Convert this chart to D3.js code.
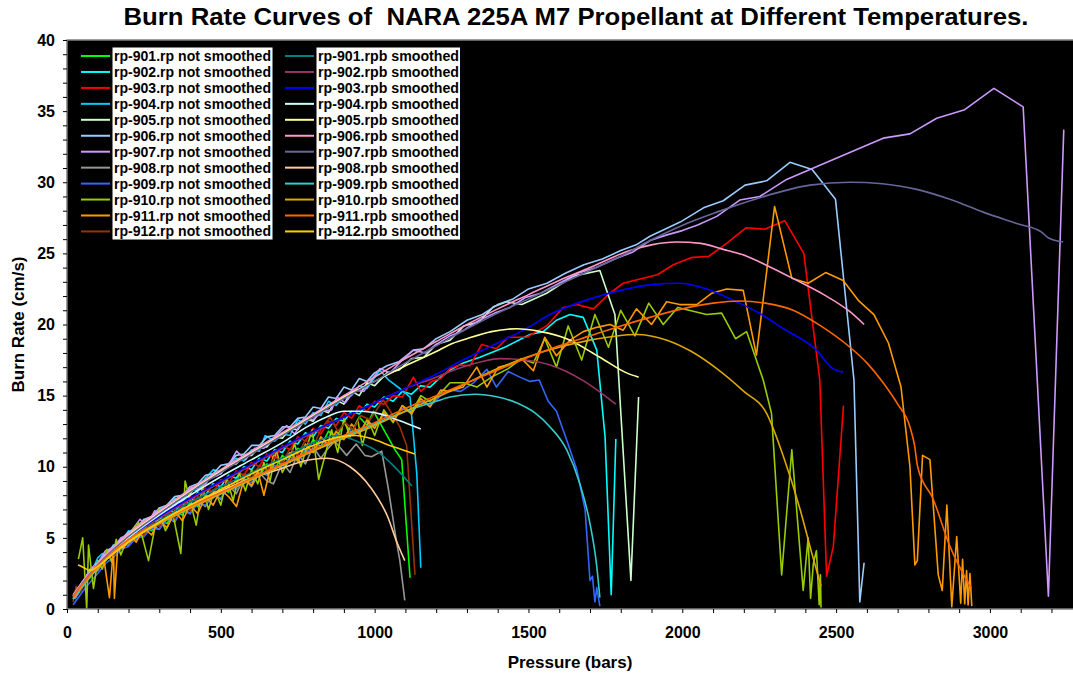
<!DOCTYPE html>
<html>
<head>
<meta charset="utf-8">
<script src="https://cdn.jsdelivr.net/npm/d3@7"></script>
<style>
  html, body { margin: 0; padding: 0; background: #ffffff; }
  svg { display: block; }
  text { font-family: "Liberation Sans", Arial, Helvetica, sans-serif; font-weight: bold; fill: #000; }
</style>
</head>
<body>
<svg id="chart" width="1073" height="675"></svg>
<script>
// ---- Text ----
const chartTitle = "Burn Rate Curves of  NARA 225A M7 Propellant at Different Temperatures.";
const xTitle = "Pressure (bars)";
const yTitle = "Burn Rate (cm/s)";

// ---- Axis ticks ----
const xTickValues = d3.range(0, 3201, 100);
const xLabelValues = [0, 500, 1000, 1500, 2000, 2500, 3000];
const yTickValues = d3.range(0, 41, 1);
const yLabelValues = [0, 5, 10, 15, 20, 25, 30, 35, 40];

// ---- Measured burn rate data: [pressure (bars), burn rate (cm/s)] ----
const rp901Raw = [[25,0.8],[50,1.7],[75,2.2],[100,3.1],[125,3.4],[150,4.3],[175,4.2],[200,5.0],[225,4.9],[250,5.7],[275,5.5],[300,6.3],[325,6.0],[350,6.9],[375,6.6],[400,7.5],[425,7.2],[450,8.0],[475,7.8],[500,8.6],[525,8.2],[550,9.1],[575,8.8],[600,9.6],[625,9.3],[650,10.2],[675,9.8],[700,10.8],[725,10.3],[750,11.3],[775,10.9],[800,11.9],[825,11.4],[850,12.5],[875,12.0],[900,13.1],[925,12.4],[950,13.5],[975,12.9],[996,13.9],[1012,13.3],[1040,12.2],[1066,11.2],[1088,10.5],[1115,2.2]];
const rp902Raw = [[25,0.9],[50,1.6],[75,2.6],[100,2.9],[125,3.8],[150,4.0],[175,4.8],[200,4.9],[225,5.6],[250,5.6],[275,6.3],[300,6.2],[325,7.0],[350,6.8],[375,7.6],[400,7.4],[425,8.2],[450,8.0],[475,8.8],[500,8.6],[525,9.4],[550,9.2],[575,10.0],[600,9.8],[625,10.6],[650,10.4],[675,11.2],[700,11.0],[725,11.8],[750,11.6],[775,12.4],[800,12.1],[825,12.9],[850,12.7],[875,13.4],[900,13.2],[925,13.9],[950,13.7],[975,14.4],[1000,14.2],[1030,14.9],[1060,14.6],[1090,15.3],[1120,15.1],[1150,15.7],[1180,15.6],[1215,16.3],[1245,16.8],[1288,17.3],[1342,17.7],[1423,18.4],[1505,19.3],[1548,19.5],[1591,20.3],[1635,20.7],[1678,20.5],[1722,18.2],[1749,12.1],[1769,1.0],[1784,11.95]];
const rp903Raw = [[25,0.9],[50,1.8],[75,2.4],[100,3.2],[125,3.6],[150,4.4],[175,4.5],[200,5.3],[225,5.3],[250,6.0],[275,5.9],[300,6.7],[325,6.5],[350,7.3],[375,7.1],[400,7.9],[425,7.6],[450,8.5],[475,8.2],[500,9.1],[525,8.8],[550,9.7],[575,9.4],[600,10.3],[625,10.0],[650,10.9],[675,10.6],[700,11.5],[725,11.2],[750,12.1],[775,11.8],[800,12.7],[825,12.3],[850,13.2],[875,12.9],[900,13.8],[925,13.4],[950,14.3],[975,13.9],[1000,14.6],[1030,14.4],[1060,15.0],[1090,14.9],[1126,16.3],[1150,15.3],[1185,16.0],[1215,16.2],[1245,16.9],[1277,17.15],[1310,17.1],[1348,18.6],[1396,18.3],[1434,19.1],[1494,19.1],[1559,19.9],[1613,21.2],[1657,21.4],[1711,21.1],[1765,22.2],[1808,22.9],[1863,23.2],[1919,23.5],[1971,24.2],[2028,24.7],[2087,24.8],[2144,25.7],[2207,26.8],[2268,26.7],[2333,27.3],[2395,25.0],[2447,16.1],[2469,2.3],[2491,4.4],[2524,14.3]];
const rp904Raw = [[25,1.0],[50,1.9],[75,2.4],[100,3.6],[115,3.9],[125,3.4],[150,4.5],[175,4.6],[200,5.5],[225,5.4],[250,6.3],[275,6.1],[300,7.1],[325,6.9],[350,7.8],[375,7.4],[400,8.5],[425,8.3],[450,9.2],[476,9.8],[500,9.6],[525,10.2],[550,10.6],[575,10.4],[600,11.2],[625,11.1],[644,12.2],[675,11.8],[700,12.3],[725,12.2],[750,13.3],[775,13.0],[800,13.8],[825,13.6],[850,14.6],[875,14.3],[900,15.0],[925,15.0],[950,15.7],[975,15.5],[1017,16.8],[1045,16.1],[1082,15.5],[1115,14.9],[1137,9.5],[1150,2.9]];
const rp905Raw = [[25,1.0],[50,1.7],[75,2.6],[100,3.0],[125,3.8],[150,4.1],[175,4.8],[200,5.0],[225,5.7],[250,5.8],[275,6.5],[300,6.6],[325,7.3],[350,7.3],[375,8.0],[400,8.1],[425,8.8],[450,8.8],[475,9.5],[500,9.5],[525,10.2],[550,10.2],[575,10.8],[600,10.8],[625,11.4],[650,11.4],[675,12.1],[700,12.0],[725,12.7],[750,12.6],[775,13.4],[800,13.2],[825,14.0],[850,13.8],[875,14.7],[900,14.4],[925,15.3],[950,15.0],[975,15.9],[1000,15.7],[1040,16.6],[1080,16.8],[1120,17.6],[1160,17.7],[1200,18.6],[1245,18.9],[1290,19.9],[1340,20.2],[1386,21.25],[1429,21.6],[1478,21.4],[1559,22.2],[1646,23.4],[1732,23.8],[1781,20.7],[1833,2.0],[1858,14.9]];
const rp906Raw = [[25,1.0],[50,1.9],[75,2.7],[100,3.3],[125,3.9],[150,4.4],[175,4.9],[200,5.4],[225,5.7],[250,6.3],[275,6.5],[300,7.1],[325,7.3],[350,7.9],[375,8.0],[400,8.6],[425,8.8],[450,9.4],[475,9.5],[500,10.1],[525,10.2],[550,10.8],[575,10.9],[600,11.5],[625,11.5],[650,12.1],[675,12.2],[700,12.8],[725,12.8],[750,13.4],[775,13.5],[800,14.2],[825,14.1],[850,14.9],[875,14.8],[900,15.6],[925,15.4],[950,16.2],[975,16.0],[1000,16.6],[1040,17.1],[1080,17.4],[1126,18.2],[1160,18.3],[1200,19.0],[1245,19.5],[1300,20.3],[1350,20.7],[1400,21.4],[1450,21.8],[1500,22.5],[1560,22.9],[1620,23.6],[1680,24.2],[1740,24.6],[1800,25.2],[1850,25.6],[1895,26.2],[1993,27.2],[2069,28.2],[2133,28.7],[2204,29.8],[2274,30.1],[2350,31.4],[2422,30.9],[2498,28.8],[2558,16.1],[2577,0.5],[2591,3.25]];
const rp907Raw = [[25,1.0],[50,1.8],[75,2.8],[100,3.2],[125,4.1],[150,4.3],[175,5.0],[200,5.2],[237,6.3],[260,5.9],[285,6.9],[310,6.7],[340,7.4],[370,7.6],[400,8.6],[430,8.4],[460,9.1],[490,9.4],[520,9.9],[551,11.1],[580,10.5],[610,11.3],[640,11.3],[670,12.0],[714,12.9],[740,12.3],[770,13.4],[800,13.3],[830,13.9],[860,14.0],[877,14.9],[905,14.5],[935,15.4],[965,15.3],[990,16.1],[1017,16.9],[1050,16.6],[1090,17.5],[1126,18.2],[1165,18.0],[1200,18.6],[1245,19.2],[1290,19.6],[1340,20.3],[1390,20.8],[1440,21.2],[1490,21.9],[1540,22.2],[1600,22.9],[1660,23.6],[1720,24.0],[1780,24.6],[1840,25.1],[1895,25.9],[1950,26.3],[2000,26.6],[2050,27.0],[2112,27.6],[2187,28.75],[2252,29.0],[2339,30.2],[2491,31.6],[2653,33.1],[2740,33.4],[2827,34.5],[2918,35.1],[3013,36.6],[3108,35.3],[3190,0.9],[3240,33.7]];
const rp908Raw = [[25,0.7],[50,1.5],[75,2.4],[100,2.7],[125,3.6],[150,3.8],[175,4.5],[200,4.5],[225,5.3],[250,5.1],[275,5.9],[300,5.6],[325,6.5],[350,6.1],[375,7.1],[400,6.7],[425,7.6],[450,7.2],[475,8.2],[500,7.7],[525,8.7],[550,8.1],[575,9.2],[600,8.6],[625,9.6],[650,9.0],[671,8.8],[700,10.3],[725,9.6],[750,10.9],[775,10.2],[800,11.4],[825,10.6],[845,11.2],[870,11.8],[909,10.8],[940,11.6],[968,10.8],[990,10.7],[1023,11.1],[1045,8.4],[1072,4.6],[1082,3.4],[1098,0.6]];
const rp909Raw = [[20,0.3],[40,0.9],[60,1.5],[80,2.0],[100,2.5],[125,3.2],[150,3.6],[175,4.2],[200,4.4],[225,5.0],[250,5.1],[275,5.7],[300,5.6],[325,6.3],[350,6.2],[375,6.9],[400,6.7],[425,7.4],[450,7.3],[475,8.0],[500,7.8],[525,8.5],[550,8.4],[575,9.0],[600,8.9],[625,9.6],[650,9.4],[675,10.1],[700,9.9],[725,10.7],[750,10.4],[775,11.2],[800,11.0],[825,11.8],[850,11.5],[875,12.3],[900,12.0],[925,12.7],[950,12.4],[975,13.2],[1000,12.9],[1030,13.6],[1060,13.4],[1090,14.1],[1120,13.8],[1150,14.6],[1180,14.3],[1215,15.0],[1245,15.4],[1280,15.3],[1321,15.9],[1365,16.85],[1396,15.6],[1434,16.7],[1472,16.3],[1505,16.0],[1535,16.1],[1564,14.6],[1591,13.9],[1624,11.9],[1657,9.8],[1684,7.0],[1700,2.0],[1708,2.3],[1716,0.5],[1722,1.5],[1732,0.2]];
const rp910Raw = [[37,3.5],[51,5.0],[64,0.05],[70,4.5],[86,1.45],[100,3.4],[115,2.8],[130,4.2],[145,3.3],[160,4.9],[175,3.8],[200,5.2],[232,6.1],[265,3.4],[297,7.0],[320,5.5],[345,6.6],[370,3.9],[384,9.0],[400,7.6],[420,5.9],[440,8.6],[460,7.0],[480,8.4],[500,7.3],[520,9.2],[540,7.6],[560,9.6],[580,8.3],[600,9.8],[620,8.8],[640,10.3],[660,9.0],[680,11.2],[700,9.6],[720,10.4],[740,11.6],[760,10.0],[797,12.6],[818,9.1],[840,10.9],[860,12.6],[880,11.0],[900,13.4],[920,12.1],[945,13.3],[960,11.5],[980,13.2],[1000,12.2],[1030,14.0],[1060,13.1],[1090,14.3],[1120,13.8],[1150,15.0],[1180,14.6],[1215,15.2],[1245,15.9],[1290,15.9],[1332,15.6],[1380,16.3],[1434,16.9],[1478,17.6],[1516,17.3],[1553,19.0],[1591,17.0],[1629,19.9],[1673,17.5],[1716,20.7],[1760,18.4],[1800,21.0],[1846,19.2],[1891,21.5],[1938,20.0],[1985,21.2],[2079,20.7],[2128,20.8],[2173,19.0],[2209,19.5],[2263,16.1],[2290,13.75],[2323,2.4],[2356,11.2],[2393,1.3],[2409,5.0],[2417,0.75],[2426,3.2],[2436,4.1],[2445,0.3],[2449,2.4],[2451,0.1]];
const rp911Raw = [[25,0.9],[50,1.6],[75,2.3],[100,2.8],[120,3.5],[138,0.8],[151,4.3],[154,0.75],[165,4.4],[185,4.3],[205,5.2],[225,4.7],[250,5.7],[275,5.2],[300,6.3],[325,5.7],[350,6.9],[375,6.2],[400,7.3],[425,6.7],[450,7.9],[475,7.3],[500,8.4],[525,7.9],[551,7.2],[575,9.1],[600,8.7],[620,9.7],[640,8.0],[671,10.8],[700,10.3],[725,11.0],[750,10.4],[775,11.6],[800,11.0],[825,12.1],[850,11.5],[875,12.5],[900,11.9],[925,13.0],[950,12.3],[975,13.3],[1000,12.7],[1030,13.8],[1060,13.2],[1090,14.3],[1120,13.7],[1150,14.8],[1180,14.2],[1215,15.4],[1245,15.3],[1288,15.6],[1332,17.0],[1365,15.6],[1402,17.0],[1440,17.2],[1478,17.6],[1516,16.75],[1553,19.1],[1591,17.8],[1635,18.9],[1678,19.5],[1722,19.8],[1765,20.0],[1808,19.6],[1851,21.1],[1900,20.0],[1949,21.6],[1992,21.4],[2047,21.4],[2096,22.2],[2144,22.5],[2198,22.4],[2241,17.85],[2300,28.3],[2356,23.25],[2409,22.9],[2466,23.65],[2523,23.1],[2572,21.7],[2623,20.7],[2670,18.7],[2711,15.6],[2740,10.0],[2756,3.1],[2764,3.4],[2781,10.8],[2805,10.5],[2832,2.4],[2845,1.3],[2860,7.3],[2876,0.16],[2892,5.1],[2905,0.4],[2911,3.5],[2918,0.35],[2924,2.7],[2929,0.28],[2935,2.5],[2941,0.2]];
const rp912Raw = [[20,0.5],[30,1.6],[45,1.2],[60,2.2],[75,2.3],[90,3.0],[110,3.1],[130,3.9],[150,3.8],[175,4.6],[200,4.6],[225,5.4],[250,5.2],[275,6.1],[300,5.8],[325,6.7],[350,6.4],[375,7.3],[400,6.9],[425,7.9],[450,7.5],[475,8.4],[500,8.1],[525,9.0],[550,8.6],[575,9.5],[600,9.2],[625,10.1],[650,9.7],[675,10.7],[700,10.3],[725,11.3],[750,10.8],[775,11.9],[800,11.4],[825,12.6],[855,13.5],[880,12.5],[905,13.1],[930,12.6],[955,13.6],[985,13.3],[1028,14.7],[1082,12.8],[1104,11.5],[1131,2.4]];

// ---- Smoothed burn rate data ----
const rp901Smooth = [[20,0.7],[50,1.6],[100,2.9],[150,4.0],[200,4.9],[300,6.2],[400,7.5],[500,8.6],[600,9.6],[700,10.6],[780,11.5],[880,12.2],[952,11.7],[1000,11.2],[1060,10.1],[1121,8.65]];
const rp902Smooth = [[20,0.8],[50,1.7],[100,3.0],[150,4.1],[200,5.0],[300,6.4],[400,7.7],[500,8.9],[600,10.1],[700,11.3],[800,12.4],[900,13.5],[1000,14.5],[1100,15.5],[1200,16.3],[1245,16.7],[1300,17.1],[1350,17.4],[1407,17.6],[1490,17.5],[1570,17.15],[1678,16.05],[1754,14.9],[1784,14.4]];
const rp903Smooth = [[20,0.8],[50,1.7],[100,3.0],[200,5.0],[300,6.5],[400,7.8],[500,9.0],[600,10.2],[700,11.4],[800,12.5],[900,13.5],[952,14.0],[1000,14.5],[1100,15.5],[1200,16.5],[1277,17.4],[1400,18.7],[1500,19.8],[1570,20.7],[1700,21.8],[1800,22.4],[1900,22.8],[1990,22.9],[2080,22.5],[2166,21.7],[2250,20.8],[2329,19.7],[2436,18.2],[2489,16.9],[2523,16.65]];
const rp904Smooth = [[20,0.9],[50,1.8],[100,3.0],[200,5.0],[300,6.6],[400,8.0],[500,9.3],[600,10.5],[700,11.7],[780,12.8],[844,13.5],[900,13.9],[952,13.9],[1020,13.7],[1080,13.25],[1150,12.65]];
const rp905Smooth = [[20,0.9],[50,1.8],[100,3.1],[200,5.2],[300,6.8],[400,8.3],[500,9.7],[600,11.0],[700,12.3],[800,13.6],[900,14.9],[1000,16.0],[1100,17.1],[1200,18.1],[1245,18.6],[1300,19.0],[1380,19.5],[1461,19.7],[1540,19.5],[1624,19.0],[1732,17.7],[1819,16.6],[1858,16.3]];
const rp906Smooth = [[20,1.0],[50,1.9],[100,3.2],[200,5.3],[300,6.9],[400,8.4],[500,9.8],[600,11.1],[700,12.4],[800,13.7],[900,15.0],[1000,16.3],[1100,17.6],[1200,18.8],[1300,20.0],[1400,21.1],[1500,22.1],[1600,23.1],[1700,24.0],[1830,25.2],[1900,25.6],[1981,25.8],[2060,25.7],[2130,25.3],[2197,24.9],[2280,24.1],[2372,23.1],[2460,22.1],[2545,20.9],[2591,20.0]];
const rp907Smooth = [[20,0.9],[50,1.8],[100,3.1],[200,5.1],[300,6.7],[400,8.2],[500,9.6],[600,10.9],[700,12.2],[800,13.5],[900,14.8],[1000,16.0],[1100,17.3],[1200,18.5],[1300,19.7],[1400,20.8],[1500,21.8],[1600,22.8],[1700,23.8],[1800,24.8],[1895,25.9],[2003,27.0],[2112,27.9],[2250,28.9],[2415,29.8],[2545,30.0],[2650,29.9],[2762,29.5],[2870,28.8],[2978,27.9],[3087,27.1],[3168,26.5],[3189,26.1],[3238,25.8]];
const rp908Smooth = [[20,0.7],[50,1.6],[100,2.9],[200,4.7],[300,6.1],[400,7.3],[500,8.3],[600,9.2],[700,9.9],[770,10.4],[844,10.6],[920,10.0],[985,8.6],[1042,6.5],[1074,4.6],[1098,3.4]];
const rp909Smooth = [[20,0.7],[50,1.6],[100,2.9],[200,4.8],[300,6.0],[400,7.1],[500,8.1],[600,9.1],[700,10.1],[800,11.1],[900,12.1],[1000,13.0],[1100,13.9],[1200,14.6],[1245,14.9],[1326,15.1],[1400,14.9],[1461,14.5],[1520,13.8],[1570,12.8],[1624,11.2],[1667,8.8],[1700,6.0],[1722,3.0],[1732,0.8]];
const rp910Smooth = [[20,0.8],[50,1.7],[100,2.9],[200,4.8],[300,6.0],[400,7.1],[500,8.1],[600,9.1],[700,10.1],[800,11.1],[900,12.0],[1000,12.9],[1100,13.9],[1245,15.3],[1400,16.9],[1550,18.1],[1700,18.9],[1851,19.3],[1950,18.9],[2030,18.1],[2112,16.9],[2200,15.3],[2274,13.75],[2329,10.7],[2383,7.0],[2420,4.0],[2451,1.6]];
const rp911Smooth = [[20,0.8],[50,1.7],[100,3.0],[200,4.9],[300,6.1],[400,7.2],[500,8.2],[600,9.2],[700,10.2],[800,11.2],[900,12.2],[1000,13.1],[1100,14.1],[1200,15.0],[1300,15.9],[1400,16.8],[1500,17.7],[1600,18.5],[1700,19.2],[1800,19.9],[1895,20.5],[2000,21.1],[2100,21.5],[2187,21.65],[2270,21.5],[2360,21.0],[2450,19.9],[2545,18.4],[2600,17.3],[2653,15.9],[2700,14.4],[2740,12.8],[2755,11.5],[2765,10.0],[2816,7.7],[2870,4.4],[2940,1.45]];
const rp912Smooth = [[36,3.1],[55,2.9],[75,2.7],[100,3.0],[150,3.9],[200,4.7],[300,6.1],[400,7.3],[500,8.4],[600,9.5],[700,10.5],[800,11.5],[887,12.1],[940,12.2],[985,12.0],[1061,11.4],[1131,10.9]];

// ---- Series order, labels and colours ----
const rawLabels = ["rp-901.rp not smoothed","rp-902.rp not smoothed","rp-903.rp not smoothed","rp-904.rp not smoothed","rp-905.rp not smoothed","rp-906.rp not smoothed","rp-907.rp not smoothed","rp-908.rp not smoothed","rp-909.rp not smoothed","rp-910.rp not smoothed","rp-911.rp not smoothed","rp-912.rp not smoothed"];
const smoothLabels = ["rp-901.rpb smoothed","rp-902.rpb smoothed","rp-903.rpb smoothed","rp-904.rpb smoothed","rp-905.rpb smoothed","rp-906.rpb smoothed","rp-907.rpb smoothed","rp-908.rpb smoothed","rp-909.rpb smoothed","rp-910.rpb smoothed","rp-911.rpb smoothed","rp-912.rpb smoothed"];
const rawData = [rp901Raw, rp902Raw, rp903Raw, rp904Raw, rp905Raw, rp906Raw, rp907Raw, rp908Raw, rp909Raw, rp910Raw, rp911Raw, rp912Raw];
const smoothData = [rp901Smooth, rp902Smooth, rp903Smooth, rp904Smooth, rp905Smooth, rp906Smooth, rp907Smooth, rp908Smooth, rp909Smooth, rp910Smooth, rp911Smooth, rp912Smooth];
const rawColors = ["#00ff00","#00ffff","#ff0000","#00ccff","#ccffcc","#99ccff","#cc99ff","#969696","#3366ff","#99cc00","#ff9900","#993300"];
const smoothColors = ["#008080","#993366","#0000ff","#ccffff","#ffff99","#ff99cc","#666699","#ffcc99","#33cccc","#dda700","#ff6600","#ffcc00"];

// ---- Layout ----
const svg = d3.select("#chart");
const plot = { left: 67, right: 1073, top: 40, bottom: 609 };

const x = d3.scaleLinear().domain([0, 3270]).range([plot.left, plot.right]);
const y = d3.scaleLinear().domain([0, 40]).range([plot.bottom, plot.top]);

// Plot background
svg.append("rect")
  .attr("x", plot.left).attr("y", plot.top)
  .attr("width", plot.right - plot.left).attr("height", plot.bottom - plot.top)
  .attr("fill", "#000000");

// Series lines
const lineRaw = d3.line().x(d => x(d[0])).y(d => y(d[1]));
const lineSmooth = d3.line().x(d => x(d[0])).y(d => y(d[1])).curve(d3.curveMonotoneX);

const series = svg.append("g").attr("fill", "none").attr("stroke-linejoin", "round");
rawData.forEach((data, i) => {
  series.append("path").attr("d", lineRaw(data))
    .attr("stroke", rawColors[i]).attr("stroke-width", 1.6);
});
smoothData.forEach((data, i) => {
  series.append("path").attr("d", lineSmooth(data))
    .attr("stroke", smoothColors[i]).attr("stroke-width", 1.6);
});

// Plot frame
svg.append("path")
  .attr("d", `M${plot.right},${plot.top}H${plot.left}V${plot.bottom}H${plot.right}`)
  .attr("fill", "none").attr("stroke", "#808080").attr("stroke-width", 1.5);

// Axes
const xAxis = d3.axisBottom(x).tickValues(xTickValues).tickSize(4).tickPadding(14)
  .tickFormat(d => xLabelValues.includes(d) ? d : "");
const gx = svg.append("g").attr("transform", `translate(0,${plot.bottom})`).call(xAxis);
gx.select(".domain").remove();
gx.selectAll("line").attr("stroke", "#000");
gx.selectAll("text").attr("font-size", 16).attr("font-family", null);

const yAxis = d3.axisLeft(y).tickValues(yTickValues).tickSize(4).tickPadding(8)
  .tickFormat(d => yLabelValues.includes(d) ? d : "");
const gy = svg.append("g").attr("transform", `translate(${plot.left},0)`).call(yAxis);
gy.select(".domain").remove();
gy.selectAll("line").attr("stroke", "#000");
gy.selectAll("text").attr("font-size", 16).attr("font-family", null);

// Titles
svg.append("text")
  .attr("x", 576).attr("y", 25)
  .attr("text-anchor", "middle")
  .attr("font-size", 23.5)
  .attr("textLength", 905).attr("lengthAdjust", "spacingAndGlyphs")
  .style("white-space", "pre")
  .text(chartTitle);

svg.append("text")
  .attr("x", 570).attr("y", 668)
  .attr("text-anchor", "middle")
  .attr("font-size", 17)
  .text(xTitle);

svg.append("text")
  .attr("transform", `translate(24,${(plot.top + plot.bottom) / 2}) rotate(-90)`)
  .attr("text-anchor", "middle")
  .attr("font-size", 17)
  .text(yTitle);

// Legend: two columns of entries, each label on a white band
const legend = svg.append("g");
const rowStep = 15.95, rowTop = 56;
const columns = [
  { labels: rawLabels, colors: rawColors, lineX0: 81, lineX1: 110, boxX: 112.5, boxW: 160, textW: 157 },
  { labels: smoothLabels, colors: smoothColors, lineX0: 285, lineX1: 314, boxX: 316.5, boxW: 143.5, textW: 141 }
];
columns.forEach(col => {
  legend.append("rect")
    .attr("x", col.boxX).attr("y", 47.5)
    .attr("width", col.boxW).attr("height", 192)
    .attr("fill", "#ffffff");
  col.labels.forEach((label, i) => {
    const cy = rowTop + i * rowStep;
    legend.append("line")
      .attr("x1", col.lineX0).attr("x2", col.lineX1)
      .attr("y1", cy).attr("y2", cy)
      .attr("stroke", col.colors[i]).attr("stroke-width", 2);
    legend.append("text")
      .attr("x", col.boxX + 1.5).attr("y", cy + 5)
      .attr("font-size", 14)
      .attr("textLength", col.textW).attr("lengthAdjust", "spacingAndGlyphs")
      .text(label);
  });
});
</script>
</body>
</html>
